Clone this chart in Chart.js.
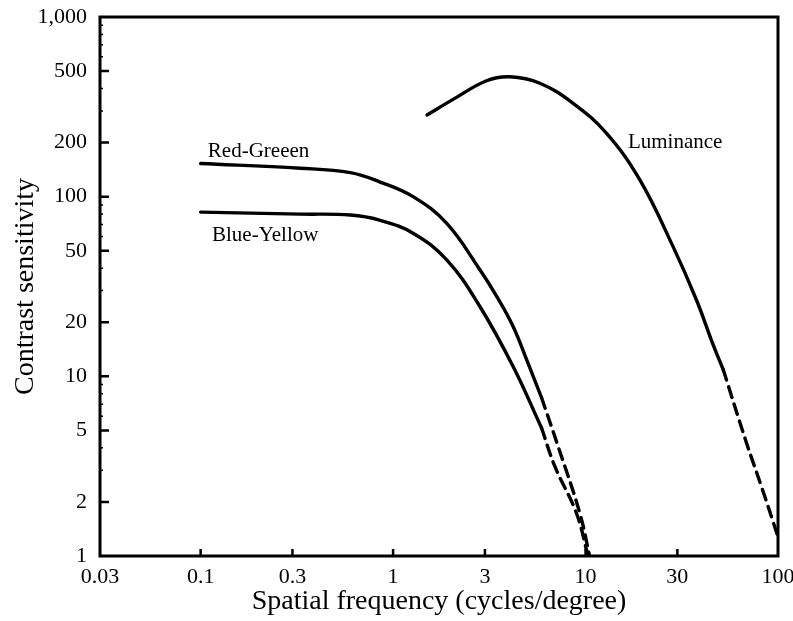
<!DOCTYPE html>
<html lang="en">
<head>
<meta charset="UTF-8">
<title>Contrast sensitivity</title>
<script src="https://cdn.jsdelivr.net/npm/chart.js@4.4.0/dist/chart.umd.min.js"></script>
<style>
  html, body { margin: 0; padding: 0; background: #fff; }
</style>
</head>
<body>
<canvas id="chart" width="793" height="621"></canvas>
<script>
// axis ticks
const xTicks = [0.03, 0.1, 0.3, 1, 3, 10, 30, 100];
const yTicks = [1, 2, 5, 10, 20, 50, 100, 200, 500, 1000];
const xInnerTicks = [0.1, 0.3, 1, 3, 10, 30];
const yInnerTicks = [2, 5, 10, 20, 50, 100, 200, 500];
const yMinorTicks = [3, 4, 6, 7, 8, 9, 30, 40, 60, 70, 80, 90, 300, 400, 600, 700, 800, 900];

// red-green (solid part, then dashed extrapolation)
const rgFreq = [0.1, 0.33, 0.6, 0.85, 1.27, 1.9, 2.83, 3.46, 4.21, 5.03, 5.91];
const rgSens = [153, 144, 136, 121, 100, 71, 39.1, 27.8, 18.9, 11.8, 7.6];
const rgDashFreq = [5.91, 7.21, 9.34, 10.5];
const rgDashSens = [7.6, 4.06, 1.73, 1.0];

// blue-yellow
const byFreq = [0.1, 0.33, 0.6, 0.85, 1.27, 1.9, 2.83, 4.21, 5.91];
const bySens = [82, 80, 79, 74, 62.6, 44.5, 24.4, 11.3, 5.16];
const byDashFreq = [5.91, 6.93, 8.97, 10.3];
const byDashSens = [5.16, 3.15, 1.73, 1.0];

// luminance
const lumFreq = [1.5, 2.05, 3.06, 4.05, 5.79, 8.62, 12.86, 19.15, 28.5, 37.7, 46, 51.9];
const lumSens = [285, 348, 442, 465, 428, 331, 225, 124, 52.7, 26.6, 15.0, 10.9];
const lumDashFreq = [51.9, 68.6, 82, 100];
const lumDashSens = [10.9, 4.26, 2.44, 1.28];

// curve names written on the plot
const labelText = ['Red-Greeen', 'Blue-Yellow', 'Luminance'];
const labelFreq = [0.109, 0.1146, 16.6];
const labelSens = [179, 61, 199];

const pts = (xs, ys) => xs.map((x, i) => ({x: x, y: ys[i]}));

function curve(xs, ys, dashed) {
    return {
        data: pts(xs, ys),
        borderColor: '#000',
        borderWidth: 3.4,
        borderDash: dashed ? [11, 7] : [],
        borderCapStyle: 'round',
        pointRadius: 0,
        fill: false,
        tension: 0.4
    };
}

const frame = {
    id: 'frame',
    afterDraw(chart) {
        const ctx = chart.ctx;
        const a = chart.chartArea;
        const xs = chart.scales.x, ys = chart.scales.y;
        ctx.save();
        ctx.strokeStyle = '#000';
        ctx.lineWidth = 2.5;
        ctx.beginPath();
        yInnerTicks.forEach(v => {
            const p = ys.getPixelForValue(v);
            ctx.moveTo(a.left, p); ctx.lineTo(a.left + 9, p);
        });
        xInnerTicks.forEach(v => {
            const p = xs.getPixelForValue(v);
            ctx.moveTo(p, a.bottom); ctx.lineTo(p, a.bottom - 7);
        });
        ctx.stroke();
        ctx.lineWidth = 1.5;
        ctx.beginPath();
        yMinorTicks.forEach(v => {
            const p = ys.getPixelForValue(v);
            ctx.moveTo(a.left, p); ctx.lineTo(a.left + 3, p);
        });
        ctx.stroke();
        ctx.lineWidth = 3;
        ctx.strokeRect(a.left, a.top, a.right - a.left, a.bottom - a.top);

        ctx.fillStyle = '#000';
        ctx.font = '21px "Liberation Serif"';
        ctx.textAlign = 'left';
        ctx.textBaseline = 'middle';
        labelText.forEach((t, i) => {
            ctx.fillText(t, xs.getPixelForValue(labelFreq[i]), ys.getPixelForValue(labelSens[i]));
        });
        ctx.restore();
    }
};

Chart.defaults.font.family = '"Liberation Serif", "Times New Roman", serif';
Chart.defaults.color = '#000';

new Chart(document.getElementById('chart'), {
    type: 'line',
    data: {
        datasets: [
            curve(rgFreq, rgSens, false),
            curve(rgDashFreq, rgDashSens, true),
            curve(byFreq, bySens, false),
            curve(byDashFreq, byDashSens, true),
            curve(lumFreq, lumSens, false),
            curve(lumDashFreq, lumDashSens, true)
        ]
    },
    options: {
        responsive: false,
        animation: false,
        layout: { padding: { top: 17, right: 15, left: 0, bottom: 0 } },
        plugins: { legend: { display: false }, tooltip: { enabled: false } },
        scales: {
            x: {
                type: 'logarithmic',
                min: 0.03,
                max: 100,
                afterBuildTicks: s => { s.ticks = xTicks.map(v => ({value: v})); },
                afterFit: s => { s.height = 65; s.paddingLeft = 0; s.paddingRight = 0; },
                grid: { display: false, drawTicks: false },
                border: { display: false },
                ticks: {
                    padding: 8,
                    maxRotation: 0,
                    autoSkip: false,
                    font: { size: 22 },
                    callback: v => String(v)
                },
                title: {
                    display: true,
                    text: 'Spatial frequency (cycles/degree)',
                    font: { size: 28 },
                    padding: { top: 0, bottom: 3 }
                }
            },
            y: {
                type: 'logarithmic',
                min: 1,
                max: 1000,
                afterBuildTicks: s => { s.ticks = yTicks.map(v => ({value: v})); },
                afterFit: s => { s.width = 100; s.paddingTop = 0; s.paddingBottom = 0; },
                grid: { display: false, drawTicks: false },
                border: { display: false },
                ticks: {
                    padding: 13,
                    autoSkip: false,
                    font: { size: 22 },
                    callback: v => v.toLocaleString('en-US')
                },
                title: {
                    display: true,
                    text: 'Contrast sensitivity',
                    font: { size: 28 },
                    padding: { top: 9, bottom: 0 }
                }
            }
        }
    },
    plugins: [frame]
});
</script>
</body>
</html>
